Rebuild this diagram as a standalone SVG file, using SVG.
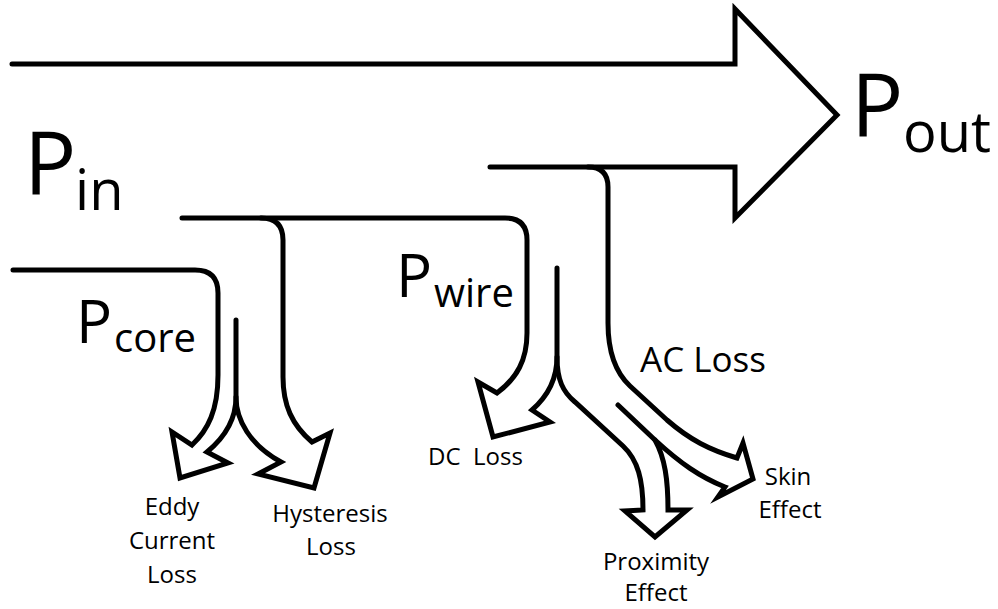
<svg xmlns="http://www.w3.org/2000/svg" width="998" height="609" viewBox="0 0 998 609">
<style>
.flow{fill:none;stroke:#000;stroke-width:5;stroke-linecap:round;stroke-linejoin:miter;stroke-miterlimit:10}
text{font-family:"Open Sans","Noto Sans","Liberation Sans",sans-serif;fill:#000}
.big{font-size:87px}
.sub{font-size:56px}
.mid{font-size:60px}
.msub{font-size:40px}
.sm{font-size:24px;text-anchor:middle}
</style>
<rect width="998" height="609" fill="#fff"/>
<g id="connectors">
  <path class="flow" d="M12,64 H735 V9 L837,115 L735,218 V167 H490"/>
  <path class="flow" d="M13,270 H195 Q218,270 218,293 V375 C218,410 208,430 192,445 L172,432 L180,478 L228,463 L207,452 C224,438 236,420 236,397 V320"/>
  <path class="flow" d="M236,397 C236,420 250,445 281,462 L258,474 L314,488 L330,433 L312,442 C292,425 283,405 283,377 V240 Q283,218 261,218"/>
  <path class="flow" d="M182,218 H505 Q527,218 527,240 V333 C527,360 517,378 497,393 L478,382 L493,437 L550,422 L532,410 C548,396 557,378 557,357 V268"/>
  <path class="flow" d="M557,357 C557,380 563,392 575,402 L623,446 C638,460 643,480 643,510 L625,511 L655,537 L687,510 L668,510 C668,480 665,458 655,440"/>
  <path class="flow" d="M618,405 L655,440 C680,463 700,477 725,487 L718,497 L753,479 L743,443 L737,458 C710,450 690,440 667,420 L630,386 C615,372 608,350 608,323 V187 Q608,167 588,167"/>
</g>
<g id="pin"><text class="big" x="24" y="195">P</text><text class="sub" x="75" y="210">in</text></g>
<g id="pout"><text class="big" x="851" y="137">P</text><text class="sub" x="903" y="152">out</text></g>
<g id="pcore"><text class="mid" x="76" y="343">P</text><text class="msub" x="114" y="352">core</text></g>
<g id="pwire"><text class="mid" x="396" y="297">P</text><text class="msub" x="434" y="307">wire</text></g>
<g id="acloss"><text x="640" y="372" font-size="35">AC Loss</text></g>
<g id="eddy"><text class="sm" x="172" y="515">Eddy</text><text class="sm" x="172" y="549">Current</text><text class="sm" x="172" y="583">Loss</text></g>
<g id="hysteresis"><text class="sm" x="330" y="522">Hysteresis</text><text class="sm" x="331" y="555">Loss</text></g>
<g id="dcloss"><text x="428" y="465" font-size="24" style="white-space:pre">DC  Loss</text></g>
<g id="proximity"><text class="sm" x="656" y="570">Proximity</text><text class="sm" x="656" y="601">Effect</text></g>
<g id="skin"><text class="sm" x="788" y="485">Skin</text><text class="sm" x="790" y="518">Effect</text></g>
</svg>
